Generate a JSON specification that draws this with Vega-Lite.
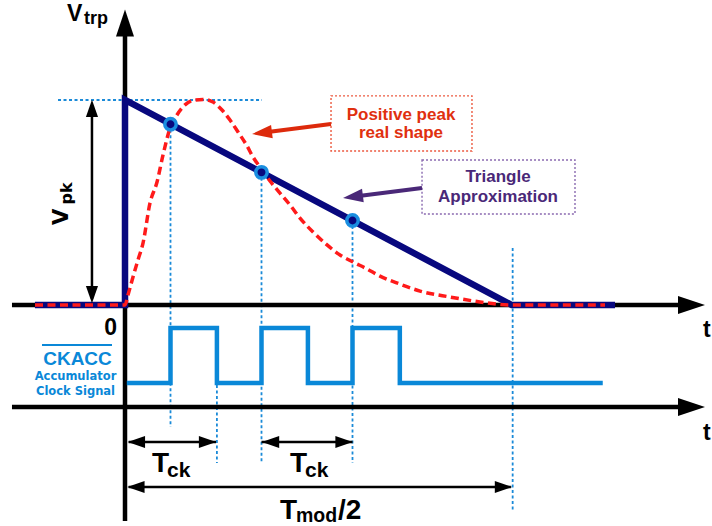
{
  "$schema": "https://vega.github.io/schema/vega-lite/v6.json",
  "width": 712,
  "height": 526,
  "padding": 0,
  "autosize": {"type": "none"},
  "background": "white",
  "config": {"view": {"stroke": null}},
  "datasets": {
    "segs": [
      {"kind": "axis", "x": 0, "y": -1.054, "x2": 0, "y2": 1.32},
      {"kind": "axis", "x": -1.242, "y": 0, "x2": 6.1, "y2": 0},
      {"kind": "axis", "x": -1.242, "y": -0.4976, "x2": 6.1, "y2": -0.4976},
      {"kind": "guide", "x": 0.5, "y": 0.882, "x2": 0.5, "y2": -0.595},
      {"kind": "guide", "x": 1.01, "y": -0.39, "x2": 1.01, "y2": -0.771},
      {"kind": "guide", "x": 1.5, "y": 0.647, "x2": 1.5, "y2": -0.771},
      {"kind": "guide", "x": 2.5, "y": 0.412, "x2": 2.5, "y2": -0.771},
      {"kind": "guide", "x": 4.26, "y": 0.278, "x2": 4.26, "y2": -1.0},
      {"kind": "guide", "x": -0.736, "y": 1, "x2": 1.505, "y2": 1},
      {"kind": "dim", "x": 0.04, "y": -0.668, "x2": 1.0, "y2": -0.668},
      {"kind": "dim", "x": 1.5, "y": -0.668, "x2": 2.5, "y2": -0.668},
      {"kind": "dim", "x": 0.04, "y": -0.888, "x2": 4.24, "y2": -0.888},
      {"kind": "dim", "x": -0.363, "y": 0.03, "x2": -0.363, "y2": 0.97},
      {"kind": "redArrow", "x": 2.264, "y": 0.883, "x2": 1.505, "y2": 0.84},
      {"kind": "purpleArrow", "x": 3.264, "y": 0.571, "x2": 2.505, "y2": 0.528},
      {"kind": "overline", "x": -0.912, "y": -0.195, "x2": -0.143, "y2": -0.195}
    ],
    "heads": [
      {"kind": "axis", "x": 0, "y": 1.3756, "a": 270},
      {"kind": "axis", "x": 6.225, "y": 0, "a": 0},
      {"kind": "axis", "x": 6.225, "y": -0.4976, "a": 0},
      {"kind": "dim", "x": 0.125, "y": -0.668, "a": 180},
      {"kind": "dim", "x": 0.907, "y": -0.668, "a": 0},
      {"kind": "dim", "x": 1.599, "y": -0.668, "a": 180},
      {"kind": "dim", "x": 2.407, "y": -0.668, "a": 0},
      {"kind": "dim", "x": 0.12, "y": -0.888, "a": 180},
      {"kind": "dim", "x": 4.159, "y": -0.888, "a": 0},
      {"kind": "dim", "x": -0.363, "y": 0.959, "a": 270},
      {"kind": "dim", "x": -0.363, "y": 0.051, "a": 90},
      {"kind": "red", "x": 1.505, "y": 0.84, "a": 172.8},
      {"kind": "purple", "x": 2.505, "y": 0.528, "a": 172.8}
    ],
    "triangle": [
      {"i": 0, "x": -0.99, "y": 0},
      {"i": 1, "x": 0, "y": 0},
      {"i": 2, "x": 0, "y": 1},
      {"i": 3, "x": 4.25, "y": 0},
      {"i": 4, "x": 5.385, "y": 0}
    ],
    "real": [
      {"i": 0, "x": -0.989, "y": 0},
      {"i": 1, "x": 0, "y": 0},
      {"i": 2, "x": 0.033, "y": 0.049},
      {"i": 3, "x": 0.088, "y": 0.137},
      {"i": 4, "x": 0.143, "y": 0.22},
      {"i": 5, "x": 0.198, "y": 0.302},
      {"i": 6, "x": 0.275, "y": 0.498},
      {"i": 7, "x": 0.352, "y": 0.6},
      {"i": 8, "x": 0.418, "y": 0.732},
      {"i": 9, "x": 0.495, "y": 0.863},
      {"i": 10, "x": 0.571, "y": 0.927},
      {"i": 11, "x": 0.659, "y": 0.976},
      {"i": 12, "x": 0.747, "y": 0.998},
      {"i": 13, "x": 0.857, "y": 1.003},
      {"i": 14, "x": 0.967, "y": 0.99},
      {"i": 15, "x": 1.066, "y": 0.951},
      {"i": 16, "x": 1.154, "y": 0.902},
      {"i": 17, "x": 1.242, "y": 0.844},
      {"i": 18, "x": 1.341, "y": 0.776},
      {"i": 19, "x": 1.407, "y": 0.722},
      {"i": 20, "x": 1.505, "y": 0.659},
      {"i": 21, "x": 1.593, "y": 0.605},
      {"i": 22, "x": 1.703, "y": 0.546},
      {"i": 23, "x": 1.813, "y": 0.488},
      {"i": 24, "x": 1.923, "y": 0.424},
      {"i": 25, "x": 2.066, "y": 0.356},
      {"i": 26, "x": 2.22, "y": 0.293},
      {"i": 27, "x": 2.363, "y": 0.244},
      {"i": 28, "x": 2.505, "y": 0.21},
      {"i": 29, "x": 2.659, "y": 0.176},
      {"i": 30, "x": 2.802, "y": 0.141},
      {"i": 31, "x": 3.022, "y": 0.102},
      {"i": 32, "x": 3.242, "y": 0.068},
      {"i": 33, "x": 3.571, "y": 0.039},
      {"i": 34, "x": 3.901, "y": 0.015},
      {"i": 35, "x": 4.242, "y": 0},
      {"i": 36, "x": 5.275, "y": 0}
    ],
    "clock": [
      {"i": 0, "x": 0.02, "y": -0.38},
      {"i": 1, "x": 0.5, "y": -0.38},
      {"i": 2, "x": 0.5, "y": -0.112},
      {"i": 3, "x": 1.01, "y": -0.112},
      {"i": 4, "x": 1.01, "y": -0.38},
      {"i": 5, "x": 1.5, "y": -0.38},
      {"i": 6, "x": 1.5, "y": -0.112},
      {"i": 7, "x": 2.01, "y": -0.112},
      {"i": 8, "x": 2.01, "y": -0.38},
      {"i": 9, "x": 2.5, "y": -0.38},
      {"i": 10, "x": 2.5, "y": -0.112},
      {"i": 11, "x": 3.02, "y": -0.112},
      {"i": 12, "x": 3.02, "y": -0.38},
      {"i": 13, "x": 5.25, "y": -0.38}
    ],
    "dots": [
      {"x": 0.5, "y": 0.882},
      {"x": 1.5, "y": 0.647},
      {"x": 2.5, "y": 0.412}
    ],
    "boxes": [
      {"kind": "red", "x": 2.264, "x2": 3.813, "y": 1.02, "y2": 0.751},
      {"kind": "purple", "x": 3.264, "x2": 4.945, "y": 0.707, "y2": 0.444}
    ],
    "labels": [
      {"kind": "big", "x": -0.637, "y": 1.385, "text": "V"},
      {"kind": "big", "x": 6.352, "y": -0.156, "text": "t"},
      {"kind": "big", "x": 6.352, "y": -0.659, "text": "t"},
      {"kind": "zero", "x": -0.159, "y": -0.146, "text": "0"},
      {"kind": "sub", "x": -0.451, "y": 1.37, "text": "trp"},
      {"kind": "T", "x": 0.297, "y": -0.815, "text": "T"},
      {"kind": "T", "x": 1.813, "y": -0.815, "text": "T"},
      {"kind": "T", "x": 1.703, "y": -1.044, "text": "T"},
      {"kind": "T", "x": 2.341, "y": -1.044, "text": "/2"},
      {"kind": "Tsub", "x": 0.462, "y": -0.839, "text": "ck"},
      {"kind": "Tsub", "x": 1.978, "y": -0.839, "text": "ck"},
      {"kind": "modsub", "x": 1.879, "y": -1.059, "text": "mod"},
      {"kind": "red", "x": 3.033, "y": 0.902, "text": "Positive peak"},
      {"kind": "red", "x": 3.033, "y": 0.815, "text": "real shape"},
      {"kind": "purple", "x": 4.099, "y": 0.6, "text": "Triangle"},
      {"kind": "purple", "x": 4.099, "y": 0.502, "text": "Approximation"},
      {"kind": "ck", "x": -0.522, "y": -0.293, "text": "CKACC"},
      {"kind": "cksmall", "x": -0.544, "y": -0.366, "text": "Accumulator"},
      {"kind": "cksmall", "x": -0.544, "y": -0.439, "text": "Clock Signal"},
      {"kind": "vpk", "x": -0.626, "y": 0.39, "text": "V"},
      {"kind": "vpksub", "x": -0.582, "y": 0.49, "text": "pk"}
    ]
  },
  "encoding": {
    "x": {"field": "x", "type": "quantitative", "scale": {"domain": [-1.37363, 6.45055], "nice": false, "zero": false}, "axis": null},
    "y": {"field": "y", "type": "quantitative", "scale": {"domain": [-1.07805, 1.4878], "nice": false, "zero": false}, "axis": null}
  },
  "layer": [
    {
      "data": {"name": "segs"},
      "transform": [{"filter": "datum.kind === 'guide'"}],
      "mark": {"type": "rule", "color": "#1a8ad8", "strokeWidth": 1.8, "strokeDash": [3, 2.5]},
      "encoding": {"x2": {"field": "x2"}, "y2": {"field": "y2"}}
    },
    {
      "data": {"name": "segs"},
      "transform": [{"filter": "datum.kind === 'axis'"}],
      "mark": {"type": "rule", "color": "black", "strokeWidth": 4.5},
      "encoding": {"x2": {"field": "x2"}, "y2": {"field": "y2"}}
    },
    {
      "data": {"name": "heads"},
      "transform": [{"filter": "datum.kind === 'axis'"}],
      "mark": {"type": "point", "shape": "M1,0L-1,-0.667L-1,0.667Z", "size": 729, "filled": true, "color": "black", "opacity": 1, "strokeWidth": 0},
      "encoding": {"angle": {"field": "a", "type": "quantitative", "scale": null}}
    },
    {
      "data": {"name": "clock"},
      "mark": {"type": "line", "color": "#0a88d8", "strokeWidth": 4.5, "strokeJoin": "miter", "strokeCap": "butt"},
      "encoding": {"order": {"field": "i", "type": "quantitative"}}
    },
    {
      "data": {"name": "triangle"},
      "mark": {"type": "line", "color": "#08087e", "strokeWidth": 6.5, "strokeJoin": "miter", "strokeCap": "butt"},
      "encoding": {"order": {"field": "i", "type": "quantitative"}}
    },
    {
      "data": {"name": "real"},
      "mark": {"type": "line", "color": "#ff1a1a", "strokeWidth": 3.5, "strokeDash": [8, 4.5], "interpolate": "monotone"},
      "encoding": {"order": {"field": "i", "type": "quantitative"}}
    },
    {
      "data": {"name": "dots"},
      "mark": {"type": "point", "shape": "circle", "size": 130, "filled": true, "fill": "#08087e", "stroke": "#1a8ee0", "strokeWidth": 3.5, "opacity": 1}
    },
    {
      "data": {"name": "segs"},
      "transform": [{"filter": "datum.kind === 'dim'"}],
      "mark": {"type": "rule", "color": "black", "strokeWidth": 2.5},
      "encoding": {"x2": {"field": "x2"}, "y2": {"field": "y2"}}
    },
    {
      "data": {"name": "heads"},
      "transform": [{"filter": "datum.kind === 'dim'"}],
      "mark": {"type": "point", "shape": "M1,0L-1,-0.7L-1,0.7Z", "size": 300, "filled": true, "color": "black", "opacity": 1, "strokeWidth": 0},
      "encoding": {"angle": {"field": "a", "type": "quantitative", "scale": null}}
    },
    {
      "data": {"name": "boxes"},
      "transform": [{"filter": "datum.kind === 'red'"}],
      "mark": {"type": "rect", "fill": "white", "stroke": "#ec5a40", "strokeWidth": 1.4, "strokeDash": [2, 2]},
      "encoding": {"x2": {"field": "x2"}, "y2": {"field": "y2"}}
    },
    {
      "data": {"name": "boxes"},
      "transform": [{"filter": "datum.kind === 'purple'"}],
      "mark": {"type": "rect", "fill": "white", "stroke": "#8a6ab0", "strokeWidth": 1.4, "strokeDash": [2, 2]},
      "encoding": {"x2": {"field": "x2"}, "y2": {"field": "y2"}}
    },
    {
      "data": {"name": "segs"},
      "transform": [{"filter": "datum.kind === 'redArrow'"}],
      "mark": {"type": "rule", "color": "#dd2a0c", "strokeWidth": 4},
      "encoding": {"x2": {"field": "x2"}, "y2": {"field": "y2"}}
    },
    {
      "data": {"name": "heads"},
      "transform": [{"filter": "datum.kind === 'red'"}],
      "mark": {"type": "point", "shape": "M1,0L-1,-0.67L-1,0.67Z", "size": 400, "filled": true, "color": "#dd2a0c", "opacity": 1, "strokeWidth": 0},
      "encoding": {"angle": {"field": "a", "type": "quantitative", "scale": null}}
    },
    {
      "data": {"name": "segs"},
      "transform": [{"filter": "datum.kind === 'purpleArrow'"}],
      "mark": {"type": "rule", "color": "#4a2878", "strokeWidth": 4},
      "encoding": {"x2": {"field": "x2"}, "y2": {"field": "y2"}}
    },
    {
      "data": {"name": "heads"},
      "transform": [{"filter": "datum.kind === 'purple'"}],
      "mark": {"type": "point", "shape": "M1,0L-1,-0.67L-1,0.67Z", "size": 400, "filled": true, "color": "#4a2878", "opacity": 1, "strokeWidth": 0},
      "encoding": {"angle": {"field": "a", "type": "quantitative", "scale": null}}
    },
    {
      "data": {"name": "segs"},
      "transform": [{"filter": "datum.kind === 'overline'"}],
      "mark": {"type": "rule", "color": "#0a88d8", "strokeWidth": 2},
      "encoding": {"x2": {"field": "x2"}, "y2": {"field": "y2"}}
    },
    {
      "data": {"name": "labels"},
      "transform": [{"filter": "datum.kind === 'big'"}],
      "mark": {"type": "text", "font": "Liberation Sans", "fontWeight": "bold", "fontSize": 23, "align": "left", "baseline": "alphabetic", "color": "black"},
      "encoding": {"text": {"field": "text"}}
    },
    {
      "data": {"name": "labels"},
      "transform": [{"filter": "datum.kind === 'zero'"}],
      "mark": {"type": "text", "font": "Liberation Sans", "fontWeight": "bold", "fontSize": 23, "align": "center", "baseline": "alphabetic", "color": "black"},
      "encoding": {"text": {"field": "text"}}
    },
    {
      "data": {"name": "labels"},
      "transform": [{"filter": "datum.kind === 'sub'"}],
      "mark": {"type": "text", "font": "Liberation Sans", "fontWeight": "bold", "fontSize": 18, "align": "left", "baseline": "alphabetic", "color": "black"},
      "encoding": {"text": {"field": "text"}}
    },
    {
      "data": {"name": "labels"},
      "transform": [{"filter": "datum.kind === 'T'"}],
      "mark": {"type": "text", "font": "Liberation Sans", "fontWeight": "bold", "fontSize": 28, "align": "left", "baseline": "alphabetic", "color": "black"},
      "encoding": {"text": {"field": "text"}}
    },
    {
      "data": {"name": "labels"},
      "transform": [{"filter": "datum.kind === 'Tsub'"}],
      "mark": {"type": "text", "font": "Liberation Sans", "fontWeight": "bold", "fontSize": 21, "align": "left", "baseline": "alphabetic", "color": "black"},
      "encoding": {"text": {"field": "text"}}
    },
    {
      "data": {"name": "labels"},
      "transform": [{"filter": "datum.kind === 'modsub'"}],
      "mark": {"type": "text", "font": "Liberation Sans", "fontWeight": "bold", "fontSize": 19.5, "align": "left", "baseline": "alphabetic", "color": "black"},
      "encoding": {"text": {"field": "text"}}
    },
    {
      "data": {"name": "labels"},
      "transform": [{"filter": "datum.kind === 'red'"}],
      "mark": {"type": "text", "font": "Liberation Sans", "fontWeight": "bold", "fontSize": 17, "align": "center", "baseline": "alphabetic", "color": "#e0300f"},
      "encoding": {"text": {"field": "text"}}
    },
    {
      "data": {"name": "labels"},
      "transform": [{"filter": "datum.kind === 'purple'"}],
      "mark": {"type": "text", "font": "Liberation Sans", "fontWeight": "bold", "fontSize": 17, "align": "center", "baseline": "alphabetic", "color": "#4a2878"},
      "encoding": {"text": {"field": "text"}}
    },
    {
      "data": {"name": "labels"},
      "transform": [{"filter": "datum.kind === 'ck'"}],
      "mark": {"type": "text", "font": "Liberation Sans", "fontWeight": "bold", "fontSize": 19, "align": "center", "baseline": "alphabetic", "color": "#0a88d8"},
      "encoding": {"text": {"field": "text"}}
    },
    {
      "data": {"name": "labels"},
      "transform": [{"filter": "datum.kind === 'cksmall'"}],
      "mark": {"type": "text", "font": "DejaVu Sans", "fontWeight": "bold", "fontSize": 11.5, "align": "center", "baseline": "alphabetic", "color": "#0a88d8"},
      "encoding": {"text": {"field": "text"}}
    },
    {
      "data": {"name": "labels"},
      "transform": [{"filter": "datum.kind === 'vpk'"}],
      "mark": {"type": "text", "font": "DejaVu Sans", "fontWeight": "bold", "fontSize": 21, "align": "left", "baseline": "alphabetic", "angle": 270, "color": "black"},
      "encoding": {"text": {"field": "text"}}
    },
    {
      "data": {"name": "labels"},
      "transform": [{"filter": "datum.kind === 'vpksub'"}],
      "mark": {"type": "text", "font": "DejaVu Sans", "fontWeight": "bold", "fontSize": 16, "align": "left", "baseline": "alphabetic", "angle": 270, "color": "black"},
      "encoding": {"text": {"field": "text"}}
    }
  ]
}
